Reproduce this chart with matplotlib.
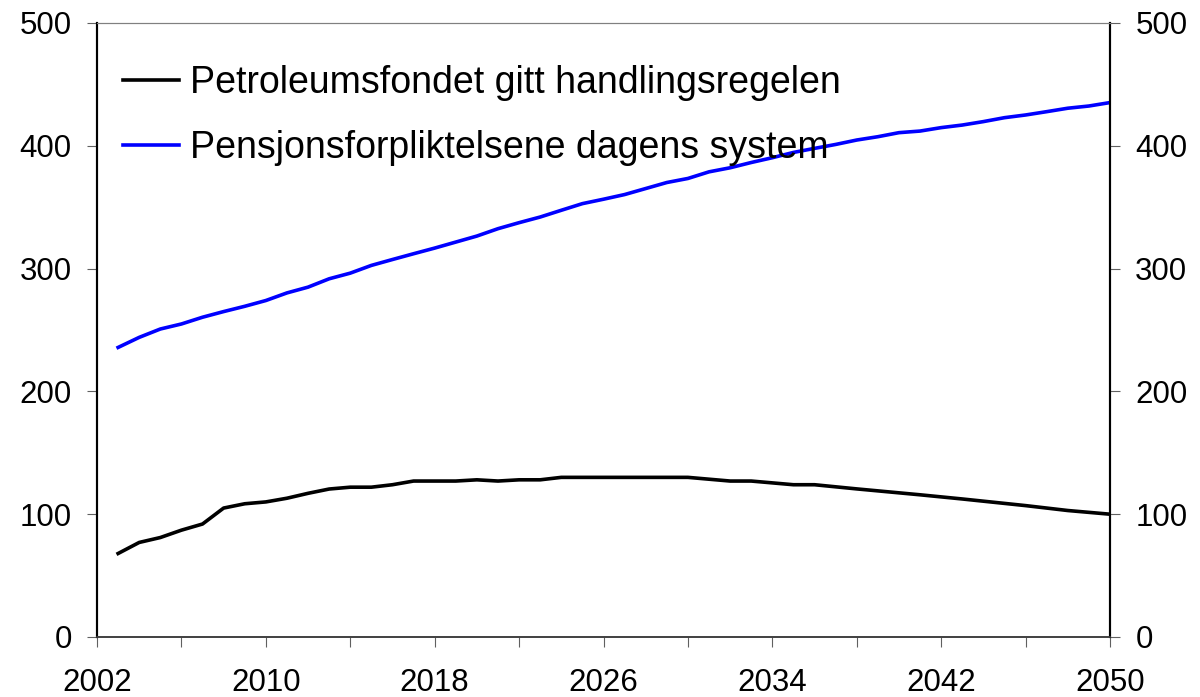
import matplotlib
matplotlib.use('Agg')
import matplotlib.pyplot as plt
import numpy as np

plt.rcParams['font.family'] = ['Liberation Sans', 'DejaVu Sans']

# Years 2003-2050
years = list(range(2003, 2051))

# Petroleumsfondet gitt handlingsregelen
fund = [68, 77, 81, 87, 92, 105, 108.5, 110, 113, 117,
        120.5, 122, 122, 124, 127, 127, 127, 128, 127, 128,
        128, 130, 130, 130, 130, 130, 130, 130, 128.5, 127,
        127, 125.5, 124, 124, 122.3, 120.6, 119, 117.4, 115.8, 114.1,
        112.4, 110.6, 108.8, 107, 105, 103, 101.5, 100]

# Pensjonsforpliktelsene dagens system
pension = [235.8, 244.0, 250.8, 254.9, 260.4, 265.0, 269.3, 274.0, 280.2, 284.9,
           291.7, 296.3, 302.6, 307.4, 312.1, 316.7, 321.6, 326.5, 332.5, 337.4,
           342.0, 347.5, 352.9, 356.5, 360.3, 365.2, 370.1, 373.4, 378.8, 382.1,
           386.4, 390.3, 394.6, 397.9, 401.1, 404.7, 407.4, 410.7, 412.0, 414.8,
           416.9, 419.7, 422.9, 425.1, 427.8, 430.6, 432.4, 435.2]

labels = ['Petroleumsfondet gitt handlingsregelen',
          'Pensjonsforpliktelsene dagens system']

x_labels = list(range(2002, 2051, 8))
y_ticks = list(range(0, 501, 100))

fig = plt.figure(figsize=(12, 6.97), dpi=100)
ax = fig.add_axes([97/1200, 1 - 637/697, (1110 - 97)/1200, (637 - 23)/697])

ax.plot(years, fund, color='black', linewidth=2.6, label=labels[0])
ax.plot(years, pension, color='#0000ff', linewidth=2.6, label=labels[1])

ax.set_xlim(2002, 2050)
ax.set_ylim(0, 500)
ax.set_xticks(x_labels)
ax.set_xticks(list(range(2006, 2051, 8)), minor=True)
ax.set_yticks(y_ticks)

ax2 = ax.twinx()
ax2.set_ylim(0, 500)
ax2.set_yticks(y_ticks)

for a in (ax, ax2):
    a.tick_params(axis='both', which='both', direction='out', length=7.2,
                  width=0.8, color='#606060', labelsize=22.5)
    a.tick_params(axis='y', pad=11)
    a.spines['left'].set_color('black')
    a.spines['left'].set_linewidth(1.5)
    a.spines['right'].set_color('black')
    a.spines['right'].set_linewidth(1.5)
    a.spines['top'].set_color('#808080')
    a.spines['top'].set_linewidth(0.8)
    a.spines['bottom'].set_color('#404040')
    a.spines['bottom'].set_linewidth(1.2)
ax.tick_params(axis='x', pad=15)

ax.legend(loc='upper left', bbox_to_anchor=(0.003, 0.968), frameon=False,
          fontsize=27, handlelength=1.5, handletextpad=0.3,
          labelspacing=0.76, borderaxespad=0.2)

fig.savefig('out.png', dpi=100)
